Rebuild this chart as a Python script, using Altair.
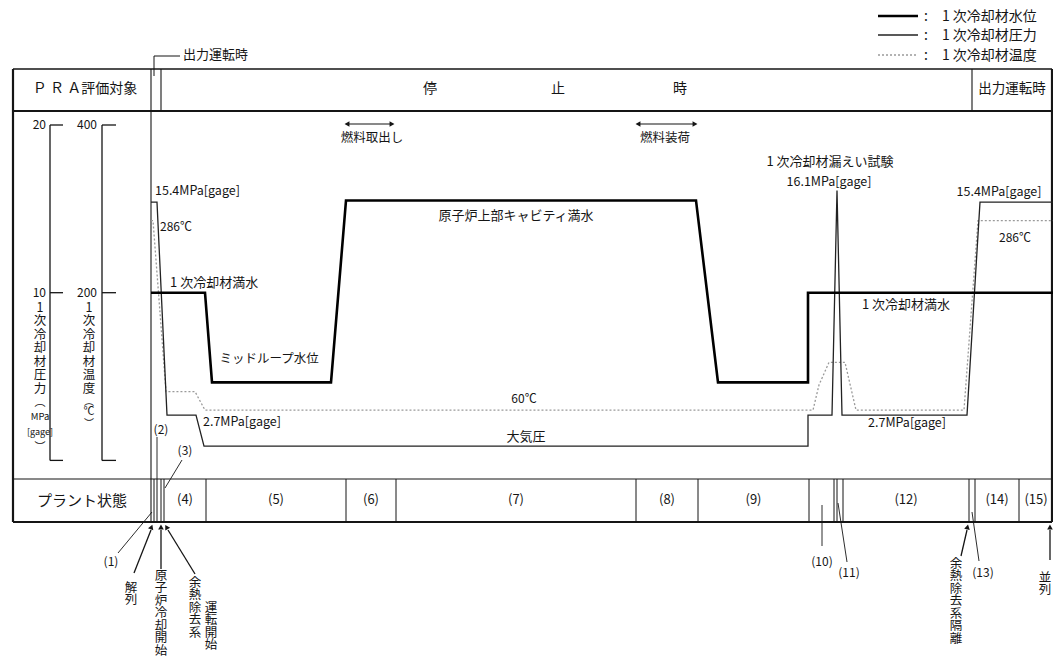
import altair as alt
import pandas as pd

FONT = "Noto Sans CJK JP"
INK = "#151515"

# ---------------- chart values ----------------
# primary coolant pressure [MPa gage] along the schematic time axis
pressure_time = [151, 157, 167, 196, 204, 808, 808, 832, 837, 842, 967, 980, 1053]
pressure_mpa = [15.4, 15.4, 2.7, 2.7, 0.85, 0.85, 2.7, 2.7, 16.1, 2.7, 2.7, 15.4, 15.4]
# primary coolant temperature [deg C]
temp_time = [151, 153, 166, 195, 205, 813, 819, 829, 845, 856, 964, 978, 1053]
temp_c = [286, 286, 82, 82, 60, 60, 90, 117, 117, 60, 60, 286, 286]
# primary coolant water level (relative, drawn on the 0-20 frame)
level_time = [151, 205, 212, 331, 346, 696, 718, 808, 808, 1053]
level_rel = [10, 10, 4.65, 4.65, 15.5, 15.5, 4.65, 4.65, 10, 10]

pressure_ticks = [0, 10, 20]
pressure_tick_labels = ["", "10", "20"]
temp_ticks = [0, 200, 400]
temp_tick_labels = ["", "200", "400"]

state_names = ["(4)", "(5)", "(6)", "(7)", "(8)", "(9)", "(12)", "(14)", "(15)"]
state_start = [164, 206, 346, 396, 636, 698, 843, 975, 1019]
state_end = [206, 346, 396, 636, 698, 809, 969, 1019, 1053]
state_dividers = [154, 157, 161, 164, 206, 346, 396, 636, 698, 809, 834, 837, 843, 969, 975, 1019]

legend_names = ["1 次冷却材水位", "1 次冷却材圧力", "1 次冷却材温度"]

# ---------------- layout ----------------
W, H = 1045, 651
XS = alt.Scale(domain=[8, 8 + W], nice=False, zero=False)
YS = alt.Scale(domain=[8, 8 + H], reverse=True, nice=False, zero=False)
Y_ZERO, Y_TOP = 460.4, 125.0
PS = alt.Scale(domain=[0, 20], range=[Y_ZERO - 8, Y_TOP - 8], nice=False, zero=False)
TS = alt.Scale(domain=[0, 400], range=[Y_ZERO - 8, Y_TOP - 8], nice=False, zero=False)
LS = alt.Scale(domain=[0, 20], range=[Y_ZERO - 8, Y_TOP - 8], nice=False, zero=False)

NOAX = None


def X(f):
    return alt.X(f, scale=XS, axis=NOAX)


def Yl(f):
    return alt.Y(f, scale=YS, axis=NOAX)


R = 1052  # right frame edge (kept inside the drawing)
segs = [
    (13, 69, R, 69, 1.5),
    (13, 111, R, 111, 2.2),
    (13, 479, R, 479, 1.2),
    (13, 522, R, 522, 2.2),
    (13, 69, 13, 522, 2.2),
    (R, 69, R, 522, 2.2),
    (151, 69, 151, 522, 1.1),
    (161, 69, 161, 111, 1.1),
    (972, 69, 972, 111, 1.1),
    # leaders
    (154, 56, 154, 76, 1), (154, 56, 180, 56, 1),
    (118, 553, 152, 512, 0.9),
    (157, 437, 157, 479, 0.9),
    (182, 460, 165, 488, 0.9),
    (822, 546, 822, 505, 0.9),
    (847, 562, 838, 503, 0.9),
    (979, 561, 972, 512, 0.9),
    # arrows
    (134, 573, 151, 530, 1.3), (161, 569, 161, 530, 1.3), (195, 574, 168, 530, 1.3),
    (961, 556, 967, 530, 1.3), (1050, 560, 1050, 530, 1.3),
    (349, 124, 390, 124, 1.1), (640, 124, 693, 124, 1.1),
]
segs += [(x, 479, x, 522, 1.0) for x in state_dividers]
seg_df = pd.DataFrame(segs, columns=["x", "y", "x2", "y2", "w"])

frame = alt.Chart(seg_df).mark_rule(color=INK).encode(
    x=X("x:Q"), x2="x2:Q", y=Yl("y:Q"), y2="y2:Q",
    strokeWidth=alt.StrokeWidth("w:Q", scale=None))

heads = pd.DataFrame([
    (151.5, 527, 21), (161, 527, 0), (166.5, 527, 330), (967.5, 527, 12), (1050, 527, 0),
    (347, 124, 270), (392, 124, 90), (638, 124, 270), (695, 124, 90)],
    columns=["x", "y", "a"])
arrowheads = alt.Chart(heads).mark_point(shape="triangle-up", filled=True, size=32,
                                         color=INK, opacity=1).encode(
    x=X("x:Q"), y=Yl("y:Q"), angle=alt.Angle("a:Q", scale=None))

# --- series ---
p_df = pd.DataFrame({"t": pressure_time, "v": pressure_mpa, "i": range(len(pressure_time))})
t_df = pd.DataFrame({"t": temp_time, "v": temp_c, "i": range(len(temp_time))})
l_df = pd.DataFrame({"t": level_time, "v": level_rel, "i": range(len(level_time))})

press_line = alt.Chart(p_df).mark_line(color="#222", strokeWidth=1.3).encode(
    x=X("t:Q"), y=alt.Y("v:Q", scale=PS, axis=NOAX), order="i:Q")
temp_line = alt.Chart(t_df).mark_line(color="#9a9a9a", strokeWidth=1.3, strokeDash=[2, 2]).encode(
    x=X("t:Q"), y=alt.Y("v:Q", scale=TS, axis=NOAX), order="i:Q")
level_line = alt.Chart(l_df).mark_line(color="#000", strokeWidth=2.6).encode(
    x=X("t:Q"), y=alt.Y("v:Q", scale=LS, axis=NOAX), order="i:Q")

# --- scale brackets ---
pb = pd.DataFrame({"x": [50], "lo": [0], "hi": [20]})
tb = pd.DataFrame({"x": [102], "lo": [0], "hi": [400]})
p_bracket = alt.Chart(pb).mark_rule(color=INK, strokeWidth=1.3).encode(
    x=X("x:Q"), y=alt.Y("lo:Q", scale=PS, axis=NOAX), y2="hi:Q")
t_bracket = alt.Chart(tb).mark_rule(color=INK, strokeWidth=1.3).encode(
    x=X("x:Q"), y=alt.Y("lo:Q", scale=TS, axis=NOAX), y2="hi:Q")
pt = pd.DataFrame({"v": pressure_ticks, "lab": pressure_tick_labels, "x": 50, "x2": 63, "lx": 46})
tt = pd.DataFrame({"v": temp_ticks, "lab": temp_tick_labels, "x": 102, "x2": 116, "lx": 97})
p_tick = alt.Chart(pt).mark_rule(color=INK, strokeWidth=1.3).encode(
    x=X("x:Q"), x2="x2:Q", y=alt.Y("v:Q", scale=PS, axis=NOAX))
t_tick = alt.Chart(tt).mark_rule(color=INK, strokeWidth=1.3).encode(
    x=X("x:Q"), x2="x2:Q", y=alt.Y("v:Q", scale=TS, axis=NOAX))
p_lab = alt.Chart(pt).mark_text(align="right", baseline="middle", font=FONT, fontSize=12, color=INK).encode(
    x=X("lx:Q"), y=alt.Y("v:Q", scale=PS, axis=NOAX), text="lab:N")
t_lab = alt.Chart(tt).mark_text(align="right", baseline="middle", font=FONT, fontSize=12, color=INK).encode(
    x=X("lx:Q"), y=alt.Y("v:Q", scale=TS, axis=NOAX), text="lab:N")

# --- legend ---
leg_df = pd.DataFrame({"x": [878] * 3, "x2": [918] * 3, "y": [16, 35, 55]})
leg1 = alt.Chart(leg_df.iloc[[0]]).mark_rule(color="#000", strokeWidth=2.6).encode(x=X("x:Q"), x2="x2:Q", y=Yl("y:Q"))
leg2 = alt.Chart(leg_df.iloc[[1]]).mark_rule(color="#222", strokeWidth=1.3).encode(x=X("x:Q"), x2="x2:Q", y=Yl("y:Q"))
leg3 = alt.Chart(leg_df.iloc[[2]]).mark_rule(color="#9a9a9a", strokeWidth=1.3, strokeDash=[2, 2]).encode(x=X("x:Q"), x2="x2:Q", y=Yl("y:Q"))

# --- texts ---
center_txt = [
    ("Ｐ Ｒ Ａ評価対象", 85, 89, 14),
    ("停", 430, 89, 14), ("止", 558, 89, 14), ("時", 680, 89, 14),
    ("出力運転時", 1012, 89, 13.5),
    ("プラント状態", 82, 501, 15),
    ("(1)", 111, 562, 12), ("(2)", 161, 430, 12), ("(3)", 185, 451, 12),
    ("(10)", 822, 562, 12), ("(11)", 849, 573, 12), ("(13)", 983, 573, 12),
    ("286℃", 176, 227, 12),
    ("ミッドループ水位", 269, 359, 12.5),
    ("原子炉上部キャビティ満水", 516, 216, 13),
    ("燃料取出し", 372, 138, 12.5), ("燃料装荷", 665, 138, 12.5),
    ("60℃", 524, 399, 12), ("大気圧", 526, 437, 13),
    ("1 次冷却材漏えい試験", 830, 162, 13), ("16.1MPa[gage]", 829, 182, 12.5),
    ("15.4MPa[gage]", 999, 192, 12.5), ("286℃", 1015, 238, 12),
    ("1 次冷却材満水", 906, 305, 13), ("2.7MPa[gage]", 907, 423, 12.5),
]
center_txt += [(n, (a + b) / 2, 500, 13) for n, a, b in zip(state_names, state_start, state_end)]
left_txt = [
    ("出力運転時", 183, 55, 13),
    ("15.4MPa[gage]", 155, 191, 12.5),
    ("1 次冷却材満水", 170, 283, 13),
    ("2.7MPa[gage]", 203, 422, 12.5),
]
left_txt += [(":\u3000" + n, 924, y, 14) for n, y in zip(legend_names, [17, 36, 56])]

# vertical (top-to-bottom) labels: bottom annotations
vert_bottom = [
    ("解列", 131, 587, 12.5),
    ("原子炉冷却開始", 161, 575, 12.5),
    ("余熱除去系", 195, 582, 12.5),
    ("運転開始", 211, 607, 12.5),
    ("余熱除去系隔離", 956, 563, 12.5),
    ("並列", 1045, 577, 12.5),
]
# vertical axis titles
vert_axis = [
    ("1次冷却材圧力", 40, 307, 12.5),
    ("1次冷却材温度", 89, 307, 12.5),
]
small_txt = [
    ("︵", 40, 403, 11), ("MPa", 40, 417, 9.5), ("[gage]", 40, 432, 9), ("︶", 40, 448, 11),
    ("︵", 89, 402, 10), ("℃", 89, 412, 11), ("︶", 89, 424, 10),
]
center_txt += small_txt


def tdf(rows):
    return pd.DataFrame(rows, columns=["text", "x", "y", "s"])


def text_layer(rows, align):
    return alt.Chart(tdf(rows)).mark_text(align=align, baseline="middle", font=FONT, color=INK).encode(
        x=X("x:Q"), y=Yl("y:Q"), text="text:N", size=alt.Size("s:Q", scale=None))


def vert_layer(rows, lh):
    vrows = [("\n".join(list(t)), x, y - 0.41 * s, s) for t, x, y, s in rows]
    return alt.Chart(tdf(vrows)).mark_text(
        align="center", baseline="top", font=FONT, color=INK, lineBreak="\n", lineHeight=lh).encode(
        x=X("x:Q"), y=Yl("y:Q"), text="text:N", size=alt.Size("s:Q", scale=None))


chart = alt.layer(
    frame, arrowheads,
    p_bracket, t_bracket, p_tick, t_tick, p_lab, t_lab,
    temp_line, press_line, level_line,
    leg1, leg2, leg3,
    text_layer(center_txt, "center"), text_layer(left_txt, "left"),
    vert_layer(vert_bottom, 12.5), vert_layer(vert_axis, 13.5),
).resolve_scale(y="independent").properties(
    width=W, height=H, padding=0, autosize="none", background="white"
).configure_view(stroke=None)

chart.save("out.html", embed_options={"renderer": "svg", "actions": False})
